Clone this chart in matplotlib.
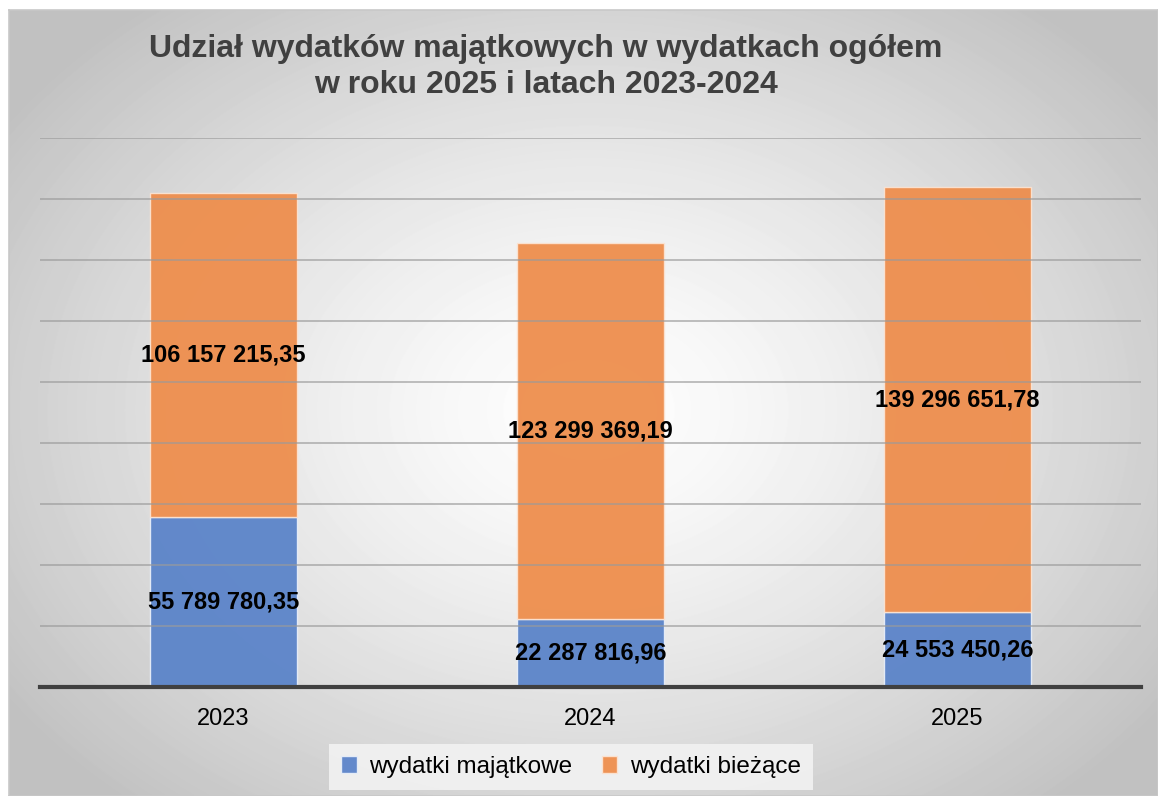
import numpy as np
import matplotlib
matplotlib.use("Agg")
import matplotlib.pyplot as plt

years = ["2023", "2024", "2025"]
majatkowe = [55789780.35, 22287816.96, 24553450.26]
biezace = [106157215.35, 123299369.19, 139296651.78]
series_names = ["wydatki majątkowe", "wydatki bieżące"]
title = "Udział wydatków majątkowych w wydatkach ogółem\nw roku 2025 i latach 2023-2024"

BLUE = "#5b84c9"
ORANGE = "#ee8e4d"

plt.rcParams["font.family"] = ["Liberation Sans", "DejaVu Sans"]


def fmt_pl(v):
    s = f"{v:,.2f}"
    return s.replace(",", " ").replace(".", ",")


W, H = 1158, 796
fig = plt.figure(figsize=(W / 100, H / 100), dpi=100)
fig.patch.set_facecolor("white")

# radial gradient background of the chart frame
bg = fig.add_axes([9 / W, 0, 1 - 9 / W, 1 - 10 / H])
yy, xx = np.mgrid[0:786, 0:1149]
cx, cy = 580, 400
r = np.sqrt(((xx - cx) / 700.0) ** 2 + ((yy - cy) / 520.0) ** 2)
r = np.clip(r, 0, 1)
shade = 1.0 - 0.24 * r ** 1.3
bg.imshow(shade, cmap="gray", vmin=0, vmax=1, aspect="auto",
          interpolation="bilinear")
bg.set_xticks([])
bg.set_yticks([])
for s in bg.spines.values():
    s.set_color("#c8c8c8")
    s.set_linewidth(1.2)

ax = fig.add_axes([40 / W, 1 - 687 / H, (1141 - 40) / W, (687 - 138) / H])
ax.patch.set_alpha(0)
x = np.arange(len(years))
bw = 0.4
b1 = ax.bar(x, majatkowe, bw, color=BLUE, edgecolor="#e8eef8", linewidth=1,
            alpha=0.95, zorder=2, label=series_names[0])
b2 = ax.bar(x, biezace, bw, bottom=majatkowe, color=ORANGE, edgecolor="#fbe3d2",
            linewidth=1, alpha=0.95, zorder=2, label=series_names[1])

for xi, m, b in zip(x, majatkowe, biezace):
    ax.text(xi, m / 2, fmt_pl(m), ha="center", va="center", fontsize=17,
            fontweight="bold", color="black", zorder=4)
    ax.text(xi, m + b / 2, fmt_pl(b), ha="center", va="center", fontsize=17,
            fontweight="bold", color="black", zorder=4)

ax.set_xlim(-0.5, 2.5)
ax.set_ylim(0, 180e6)
ax.set_yticks(np.arange(20e6, 180e6 + 1, 20e6))
ax.yaxis.grid(True, color="#9a9a9a", linewidth=1.1, alpha=0.8, zorder=3)
ax.set_axisbelow(False)
ax.tick_params(axis="y", left=False, labelleft=False)
ax.set_xticks(x)
ax.set_xticklabels(years, fontsize=17)
ax.tick_params(axis="x", length=0, pad=15)
for s in ["top", "right", "left"]:
    ax.spines[s].set_visible(False)
ax.spines["bottom"].set_color("#404040")
ax.spines["bottom"].set_linewidth(3)
ax.spines["bottom"].set_zorder(5)

fig.text(546 / W, 1 - 67 / H, title, ha="center", va="center", fontsize=23,
         fontweight="bold", color="#404040", linespacing=1.3)

leg = fig.legend(handles=[b1, b2], labels=series_names, loc="center",
                 bbox_to_anchor=(571 / W, 1 - 767 / H), ncol=2, fontsize=17.5,
                 frameon=True, fancybox=False, handlelength=0.65,
                 handleheight=0.65, handletextpad=0.5, columnspacing=1.2,
                 borderpad=0.5)
leg.get_frame().set_facecolor("#f2f2f2")
leg.get_frame().set_edgecolor("none")
leg.get_frame().set_alpha(0.9)

fig.savefig("out.png", dpi=100)
